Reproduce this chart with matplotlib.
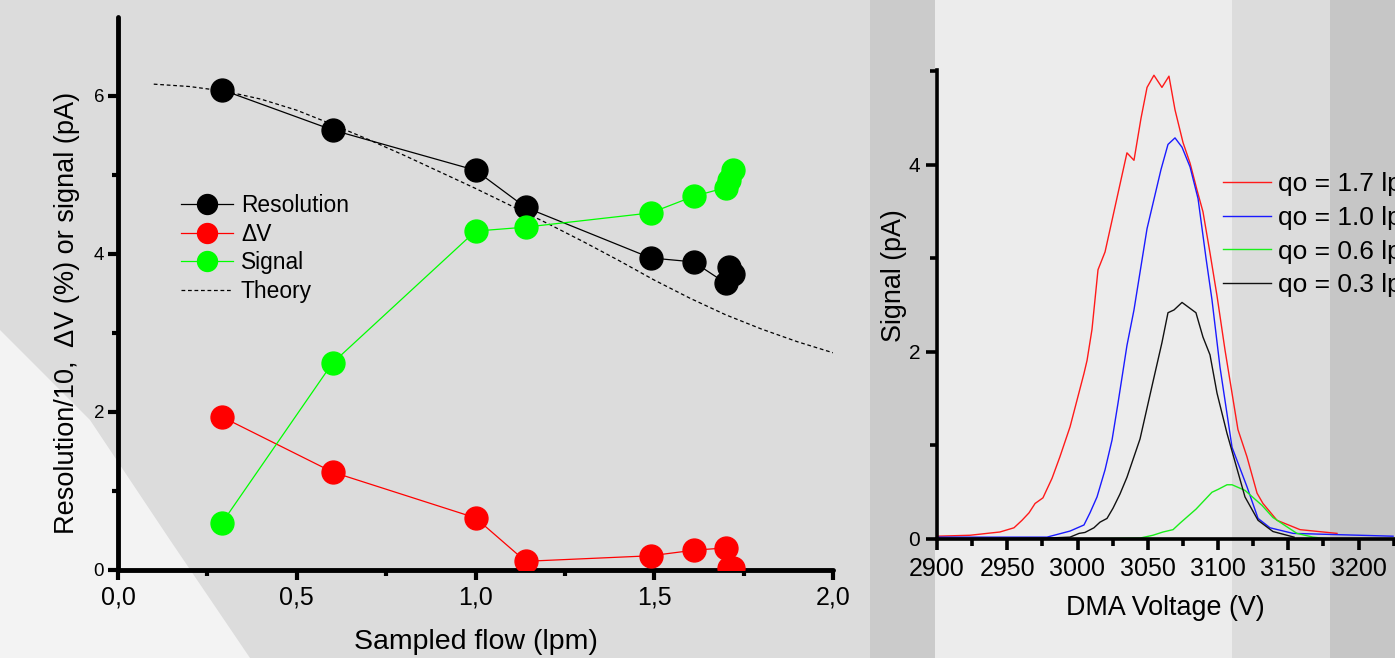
import matplotlib
matplotlib.use("Agg")
import matplotlib.pyplot as plt
from matplotlib.patches import Rectangle, Polygon
from matplotlib.ticker import FixedLocator
import numpy as np

plt.rcParams['font.family'] = ['Liberation Sans', 'DejaVu Sans']

# ---------------- Left panel data ----------------
flow = [0.29, 0.60, 1.00, 1.14, 1.49, 1.61, 1.70, 1.71, 1.72]
resolution = [6.08, 5.57, 5.06, 4.59, 3.95, 3.90, 3.63, 3.84, 3.75]
delta_v = [1.94, 1.24, 0.66, 0.11, 0.18, 0.25, 0.28, 0.03, 0.02]
signal = [0.59, 2.62, 4.29, 4.34, 4.52, 4.73, 4.84, 4.94, 5.06]

theory_x = [0.1, 0.2, 0.3, 0.4, 0.5, 0.6, 0.7, 0.8, 0.9, 1.0,
            1.1, 1.2, 1.3, 1.4, 1.5, 1.6, 1.7, 1.8, 1.9, 2.0]
theory_y = [6.15, 6.12, 6.06, 5.96, 5.82, 5.64, 5.45, 5.25, 5.04, 4.83,
            4.61, 4.39, 4.16, 3.92, 3.67, 3.44, 3.23, 3.05, 2.89, 2.75]

left_xticks = [0.0, 0.5, 1.0, 1.5, 2.0]
left_xticklabels = ["0,0", "0,5", "1,0", "1,5", "2,0"]
left_yticks = [0, 2, 4, 6]

# ---------------- Right panel data ----------------
red_v = [2900, 2923.5, 2935.6, 2944.8, 2954.8, 2960.5, 2965.5, 2969.8, 2975.4, 2981.9,
         2987.5, 2994.7, 3004.6, 3006.8, 3010.3, 3014.6, 3019.6, 3035.2, 3040.2, 3045.2,
         3049.5, 3054.4, 3060.1, 3065.1, 3069.4, 3075.1, 3080.1, 3085.1, 3089.3, 3094.3,
         3099.3, 3105.0, 3114.2, 3120.6, 3127.8, 3132.0, 3142.0, 3158.4, 3184.7]
red_s = [0.03, 0.04, 0.06, 0.075, 0.12, 0.20, 0.28, 0.38, 0.44, 0.65,
         0.88, 1.20, 1.77, 1.91, 2.24, 2.88, 3.07, 4.13, 4.05, 4.50,
         4.83, 4.96, 4.83, 4.95, 4.59, 4.24, 4.02, 3.73, 3.50, 3.06,
         2.60, 2.02, 1.17, 0.88, 0.49, 0.38, 0.20, 0.10, 0.06]

blue_v = [2900, 2978.3, 2994.7, 3004.6, 3008.9, 3013.9, 3019.6, 3024.6, 3028.8, 3035.2,
          3040.2, 3049.5, 3059.4, 3064.4, 3069.4, 3074.4, 3080.1, 3085.8, 3091.5, 3095.7,
          3101.4, 3110.0, 3120.6, 3128.5, 3137.0, 3153.4, 3224.6]
blue_s = [0.02, 0.02, 0.085, 0.15, 0.28, 0.45, 0.74, 1.06, 1.45, 2.07,
          2.45, 3.32, 3.95, 4.22, 4.29, 4.19, 3.98, 3.64, 3.00, 2.56,
          1.84, 0.98, 0.56, 0.22, 0.12, 0.06, 0.03]

green_v = [2999.6, 3044.5, 3053.7, 3060.9, 3068.0, 3073.0, 3084.4, 3095.7, 3100.0, 3106.4,
           3110.0, 3119.2, 3131.3, 3139.1, 3149.1, 3156.2, 3167.6, 3179.7]
green_s = [0.0, 0.01, 0.04, 0.075, 0.10, 0.17, 0.32, 0.50, 0.53, 0.58,
           0.58, 0.52, 0.36, 0.23, 0.13, 0.06, 0.02, 0.0]

black_v = [2900, 2978.3, 2994.7, 3001.1, 3005.3, 3011.7, 3016.0, 3021.0, 3025.3, 3030.2,
           3035.2, 3044.5, 3053.7, 3060.1, 3064.4, 3068.7, 3074.4, 3084.3, 3089.3, 3094.3,
           3099.3, 3106.4, 3119.2, 3128.5, 3139.1, 3154.1]
black_s = [0.0, 0.01, 0.02, 0.06, 0.07, 0.12, 0.18, 0.22, 0.33, 0.48,
           0.66, 1.07, 1.68, 2.10, 2.42, 2.45, 2.53, 2.42, 2.16, 1.97,
           1.56, 1.13, 0.45, 0.20, 0.08, 0.02]

right_labels = ["qo = 1.7 lpm", "qo = 1.0 lpm", "qo = 0.6 lpm", "qo = 0.3 lpm"]
right_xticks = [2900, 2950, 3000, 3050, 3100, 3150, 3200]
right_yticks = [0, 2, 4]

# ---------------- Figure ----------------
W, H = 1395, 658
fig = plt.figure(figsize=(W / 100, H / 100), dpi=100)
fig.patch.set_facecolor('#dadada')

def px_rect(x0, y0, x1, y1, color):
    fig.patches.append(Rectangle((x0 / W, 1 - y1 / H), (x1 - x0) / W, (y1 - y0) / H,
                                 transform=fig.transFigure, color=color, zorder=-10, lw=0))

def px_poly(pts, color):
    fig.patches.append(Polygon([(x / W, 1 - y / H) for x, y in pts], closed=True,
                               transform=fig.transFigure, color=color, zorder=-9, lw=0))

# background (photo-like backdrop)
px_rect(0, 0, 870, 658, '#dcdcdc')
px_poly([(0, 330), (90, 420), (170, 540), (250, 658), (0, 658)], '#f3f3f3')
px_rect(870, 0, 935, 658, '#cbcbcb')
px_rect(935, 0, 1232, 658, '#ececec')
px_rect(1232, 0, 1330, 658, '#dcdcdc')
px_rect(1330, 0, 1395, 658, '#c6c6c6')

# ---------------- Left axes ----------------
ax1 = fig.add_axes([118 / W, 1 - 570 / H, (833 - 118) / W, (570 - 17) / H])
ax1.set_facecolor('none')
ax1.set_xlim(0, 2.0)
ax1.set_ylim(0, 7.0)

ms = 16.5
ax1.plot(theory_x, theory_y, ls=(0, (3, 2.2)), color='black', lw=0.9, zorder=1, label='Theory')
ax1.plot(flow, resolution, '-', color='black', lw=0.9, marker='o', ms=ms, zorder=3,
         label='Resolution')
ax1.plot(flow, delta_v, '-', color='#ff0000', lw=0.9, marker='o', ms=ms, zorder=3,
         label='\u0394V')
ax1.plot(flow, signal, '-', color='#00ff00', lw=0.9, marker='o', ms=ms, zorder=4,
         label='Signal')

for s in ['top', 'right']:
    ax1.spines[s].set_visible(False)
for s in ['left', 'bottom']:
    ax1.spines[s].set_linewidth(3.5)
    ax1.spines[s].set_capstyle('round')

ax1.xaxis.set_major_locator(FixedLocator(left_xticks))
ax1.set_xticklabels(left_xticklabels)
ax1.xaxis.set_minor_locator(FixedLocator([0.25, 0.75, 1.25, 1.75]))
ax1.yaxis.set_major_locator(FixedLocator(left_yticks))
ax1.yaxis.set_minor_locator(FixedLocator([1, 3, 5]))
ax1.tick_params(axis='both', which='major', direction='out', length=7, width=3)
ax1.tick_params(axis='both', which='minor', direction='out', length=4.5, width=3)
ax1.tick_params(axis='x', labelsize=18, pad=4)
ax1.tick_params(axis='y', labelsize=13.5, pad=3)

ax1.set_xlabel('Sampled flow (lpm)', fontsize=20.5)
ax1.xaxis.set_label_coords(0.5, -0.106)
ax1.set_ylabel('Resolution/10,  \u0394V (%) or signal (pA)', fontsize=19.5)
ax1.yaxis.set_label_coords(-0.053, 0.464)

handles, labels = ax1.get_legend_handles_labels()
order = [1, 2, 3, 0]
leg1 = ax1.legend([handles[i] for i in order], [labels[i] for i in order],
                  loc='upper left', bbox_to_anchor=(181 / W, 1 - 194 / H),
                  bbox_transform=fig.transFigure, frameon=False, fontsize=16.4,
                  markerscale=0.87, handlelength=2.28, handletextpad=0.35,
                  labelspacing=0.25, borderpad=0, borderaxespad=0)

# ---------------- Right axes ----------------
ax2 = fig.add_axes([937 / W, 1 - 539 / H, 562 / W, (539 - 70) / H])
ax2.set_facecolor('none')
ax2.set_xlim(2900, 3300)
ax2.set_ylim(0, 5.016)

ax2.plot(red_v, red_s, color='#ff1a1a', lw=1.0, label=right_labels[0])
ax2.plot(blue_v, blue_s, color='#1a1aff', lw=1.0, label=right_labels[1])
ax2.plot(green_v, green_s, color='#1aef1a', lw=1.0, label=right_labels[2])
ax2.plot(black_v, black_s, color='#111111', lw=1.0, label=right_labels[3])

for s in ['top', 'right']:
    ax2.spines[s].set_visible(False)
for s in ['left', 'bottom']:
    ax2.spines[s].set_linewidth(2.6)

ax2.xaxis.set_major_locator(FixedLocator(right_xticks))
ax2.xaxis.set_minor_locator(FixedLocator([2925, 2975, 3025, 3075, 3125, 3175, 3225]))
ax2.yaxis.set_major_locator(FixedLocator(right_yticks))
ax2.yaxis.set_minor_locator(FixedLocator([1, 3, 5]))
ax2.tick_params(axis='both', which='major', direction='out', length=8, width=2.6)
ax2.tick_params(axis='both', which='minor', direction='out', length=5, width=2.6)
ax2.tick_params(axis='x', labelsize=18, pad=5)
ax2.tick_params(axis='y', labelsize=15, pad=4)

ax2.set_xlabel('DMA Voltage (V)', fontsize=19.4)
ax2.xaxis.set_label_coords((1165 - 937) / 562, -0.12)
ax2.set_ylabel('Signal (pA)', fontsize=19.4)
ax2.yaxis.set_label_coords(-0.053, (539 - 276) / 469)

leg2 = ax2.legend(loc='upper left', bbox_to_anchor=(1223 / W, 1 - 172 / H),
                  bbox_transform=fig.transFigure, frameon=False, fontsize=19,
                  handlelength=1.82, handletextpad=0.27, labelspacing=0.37,
                  borderpad=0, borderaxespad=0)

fig.savefig('out.png', dpi=100, facecolor=fig.get_facecolor())
